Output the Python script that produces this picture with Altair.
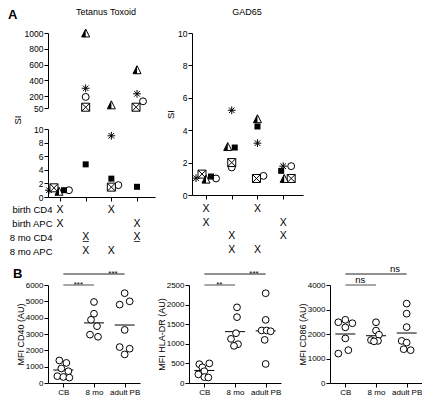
import altair as alt
import pandas as pd

FONT = "Liberation Sans"

# ---------------- data: panel A ----------------
groups = [1, 2, 3, 4]
donors = ["star", "triangle", "circle", "box", "square"]

tt_star = [1.0, 300, 9.0, 230]
tt_triangle = [0.85, 1000, 90, 535]
tt_circle = [1.0, 190, 1.75, 135]
tt_box = [1.35, 60, 1.45, 60]
tt_square = [1.0, 4.8, 2.7, 1.5]

gad_star = [1.04, 5.23, 3.2, 1.78]
gad_triangle = [0.98, 2.99, 4.71, 1.02]
gad_circle = [1.02, 1.7, 1.18, 1.78]
gad_box = [1.29, 2.0, 1.02, 1.02]
gad_square = [1.14, 2.93, 4.23, 1.49]

row_labels = ["birth CD4", "birth APC", "8 mo CD4", "8 mo APC"]
tt_table = [[1, 3], [1, 4], [2, 4], [2, 3]]
gad_table = [[1, 3], [1, 4], [2, 4], [2, 3]]

# ---------------- data: panel B ----------------
cats = ["CB", "8 mo", "adult PB"]
cd40_cb = [1380, 1230, 890, 720, 420, 370, 330]
cd40_8mo = [4960, 4240, 3870, 3480, 2960, 2830]
cd40_adult = [5500, 4800, 5000, 3250, 2200, 2100, 1750]
cd40_med = [790, 3680, 3550]

hla_cb = [480, 500, 400, 300, 220, 150, 140]
hla_8mo = [1930, 1680, 1270, 1125, 990, 947]
hla_adult = [2290, 1610, 1340, 1340, 1320, 1100, 486]
hla_med = [320, 1310, 1330]

cd86_cb = [2480, 2580, 2440, 2270, 1820, 1340, 1200]
cd86_8mo = [2480, 2140, 1970, 1750, 1720, 1700]
cd86_adult = [3240, 2830, 2280, 1720, 1650, 1380, 1340]
cd86_med = [2000, 1930, 2040]

sig_cd40 = ["***", "***"]
sig_hla = ["***", "**"]
sig_cd86 = ["ns", "ns"]

# ---------------- styles (jitter in px) ----------------
STEP = 25.7
tt_jit = {
    "star": [-11, 0, 0, 0], "box": [-6, 0, 0, -1], "triangle": [-1, 0, 0, 0],
    "square": [4, 0, 0, 0], "circle": [9, 0, 7, 6],
}
gad_jit = {
    "star": [-10, 0, 0, 0], "box": [-4, 0, -1, 8], "triangle": [0, -4, 0, 1],
    "square": [5, 3, 0, -2], "circle": [10, 0, 6, 8],
}
cd40_jit = [[-4, 3, -2, 5, -6, 0, 6], [0, 0, -3, 3, -4, 4], [0, -5, 5, 0, -5, 5, 0]]
hla_jit = [[-5, 5, -2, 0, -6, 0, 4], [2, 2, 1, -4, 3, -1], [0, 0, -4, 1, 5, -1, 0]]
cd86_jit = [[-7, 0, 7, 0, 0, 3, -7], [0, 0, 3, -5, 2, -2], [0, 0, 0, -5, 0, -3, 4]]

STAR = "M-1,0H1M0,-1V1M-0.72,-0.72L0.72,0.72M-0.72,0.72L0.72,-0.72"
BOX = "M-1,-1H1V1H-1ZM-1,-1L1,1M-1,1L1,-1"
TRI_OUT = "M0,-1L1,1L-1,1Z"
TRI_HALF = "M0,-1L-1,1L0,1Z"


def a_frame(vals, jit):
    rows = []
    for d in donors:
        for i, g in enumerate(groups):
            rows.append({"donor": d, "group": g, "value": vals[d][i],
                         "x": g + jit[d][i] / STEP})
    return pd.DataFrame(rows)


tt_df = a_frame({"star": tt_star, "triangle": tt_triangle, "circle": tt_circle,
                 "box": tt_box, "square": tt_square}, tt_jit)
gad_df = a_frame({"star": gad_star, "triangle": gad_triangle, "circle": gad_circle,
                  "box": gad_box, "square": gad_square}, gad_jit)

AX = dict(labelFont=FONT, labelFontSize=8.5, labelColor="black", domainColor="black",
          tickColor="black", tickSize=4, grid=False, titleFont=FONT, titleFontSize=9.5,
          titleFontWeight="normal", titleColor="black", labelPadding=1, format="d")


def text_chart(t, x, y, size=9.5, bold=False, angle=0, align="left", baseline="top",
               opacity=1):
    kw = dict(font=FONT, fontSize=size, fontWeight="bold" if bold else "normal",
              align=align, baseline=baseline, color="black", opacity=opacity)
    if angle:
        kw["angle"] = angle
    return alt.Chart(pd.DataFrame({"t": [t]})).mark_text(**kw).encode(
        text="t:N", x=alt.value(x), y=alt.value(y))


def symbol_layers(df, xs, ys):
    enc = dict(x=xs, y=ys)
    out = []

    def sub(d):
        return alt.Chart(df[df.donor == d])
    out.append(sub("star").mark_point(shape=STAR, size=60, stroke="black", strokeWidth=1,
                                      opacity=1).encode(**enc))
    out.append(sub("circle").mark_point(shape="circle", size=48, filled=True, fill="white",
                                        stroke="black", strokeWidth=1, opacity=1).encode(**enc))
    out.append(sub("box").mark_point(shape=BOX, size=64, filled=True, fill="white",
                                     stroke="black", strokeWidth=1, opacity=1).encode(**enc))
    out.append(sub("triangle").mark_point(shape=TRI_OUT, size=64, filled=True, fill="white",
                                          stroke="black", strokeWidth=1, opacity=1).encode(**enc))
    out.append(sub("triangle").mark_point(shape=TRI_HALF, size=64, filled=True, fill="black",
                                          strokeWidth=0, opacity=1).encode(**enc))
    out.append(sub("square").mark_point(shape="square", size=36, filled=True, fill="black",
                                        opacity=1).encode(**enc))
    return out


# ---- Tetanus (broken axis) ----
TT_DOM = [0.533, 4.70]
tt_x_none = alt.X("x:Q", scale=alt.Scale(domain=TT_DOM, nice=False, zero=False), axis=None)
tt_x_ax = alt.X("x:Q", scale=alt.Scale(domain=TT_DOM, nice=False, zero=False),
                axis=alt.Axis(values=groups, labels=False, title=None, **AX))
tt_y_up = alt.Y("value:Q", scale=alt.Scale(domain=[50, 1000], nice=False, zero=False),
                axis=alt.Axis(values=[50, 200, 400, 600, 800, 1000], title=None, **AX))
tt_y_low = alt.Y("value:Q", scale=alt.Scale(domain=[0, 10], nice=False),
                 axis=alt.Axis(values=[0, 2, 4, 6, 8, 10], title=None, **AX))

tt_up = alt.layer(
    *symbol_layers(tt_df[tt_df.value > 10], tt_x_none, tt_y_up),
    text_chart("A", -40, -24, size=13, bold=True),
    text_chart("Tetanus Toxoid", 58, -25, size=9, align="center"),
).properties(width=107, height=75)
tt_low = alt.layer(
    *symbol_layers(tt_df[tt_df.value <= 10], tt_x_ax, tt_y_low),
    text_chart("SI", -30, -9, angle=270, align="center", baseline="middle"),
).properties(width=107, height=68)

# ---- GAD65 ----
GAD_DOM = [0.455, 4.77]
gad_x = alt.X("x:Q", scale=alt.Scale(domain=GAD_DOM, nice=False, zero=False),
              axis=alt.Axis(values=groups, labels=False, title=None, **AX))
gad_y = alt.Y("value:Q", scale=alt.Scale(domain=[0, 10], nice=False),
              axis=alt.Axis(values=[0, 2, 4, 6, 8, 10], title="SI", titlePadding=2, **AX))
gad = alt.layer(
    *symbol_layers(gad_df, gad_x, gad_y),
    text_chart("GAD65", 55, -25, size=9, align="center"),
).properties(width=111, height=162)


# ---- tables ----
def table_frame(tab, underline_row=None):
    rows = []
    for r, gs in zip(row_labels, tab):
        for g in gs:
            txt = "X\u0332" if r == underline_row else "X"
            rows.append({"row": r, "group": g, "txt": txt})
    return pd.DataFrame(rows)


def table_chart(df, dom, width, labels):
    yax = alt.Axis(title=None, domain=False, ticks=False, labelFont=FONT, labelFontSize=9.5,
                   labelColor="black", labelPadding=-4) if labels else None
    return alt.Chart(df).mark_text(font=FONT, fontSize=10.5, color="black").encode(
        x=alt.X("group:Q", scale=alt.Scale(domain=dom, nice=False, zero=False), axis=None),
        y=alt.Y("row:N", sort=row_labels, scale=alt.Scale(domain=row_labels), axis=yax),
        text="txt:N",
    ).properties(width=width, height=55)


tt_tab = table_chart(table_frame(tt_table, "8 mo CD4"), TT_DOM, 107, True)
gad_tab = table_chart(table_frame(gad_table), GAD_DOM, 111, False)

tt_col = alt.vconcat(tt_up, tt_low, tt_tab, spacing=1)
gad_col = alt.vconcat(gad, gad_tab, spacing=2)
top = alt.hconcat(tt_col, gad_col, spacing=10)


# ---- panel B ----
def b_panel(series, jits, meds, ymax, ystep, title, sigs, letter=False):
    rows = []
    for c, vals, js in zip(cats, series, jits):
        for v, j in zip(vals, js):
            rows.append({"cat": c, "value": v, "jit": j})
    df = pd.DataFrame(rows)
    xsc = alt.Scale(type="point", domain=cats, padding=0.5)
    xax_kw = {**AX, "labelFontSize": 8}
    xax_kw.pop("format")
    xax = alt.Axis(title=None, labelAngle=0, **xax_kw)

    def X(f):
        return alt.X(f, type="nominal", scale=xsc, axis=xax)

    ysc = alt.Scale(domain=[0, ymax], nice=False)
    yax_kw = {**AX, "labelFontSize": 8, "titleFontSize": 9}
    yax = alt.Axis(values=list(range(0, ymax + 1, ystep)), title=title, titlePadding=0,
                   **yax_kw)
    pts = alt.Chart(df).mark_point(shape="circle", size=46, filled=True, fill="white",
                                   stroke="black", strokeWidth=1, opacity=1).encode(
        x=X("cat"),
        xOffset=alt.XOffset("jit:Q", scale=alt.Scale(domain=[-10, 10], range=[-10, 10])),
        y=alt.Y("value:Q", scale=ysc, axis=yax))
    med = alt.Chart(pd.DataFrame({"cat": cats, "m": meds})).mark_tick(
        color="black", thickness=1, size=20, opacity=1).encode(
        x=X("cat"), y=alt.Y("m:Q", scale=ysc, axis=yax))
    sig_long = alt.Chart(pd.DataFrame({"a": ["CB"], "b": ["adult PB"]})).mark_rule(
        color="#222", strokeWidth=1).encode(x=X("a"), x2="b:N", y=alt.value(-11))
    sig_short = alt.Chart(pd.DataFrame({"a": ["CB"], "b": ["8 mo"]})).mark_rule(
        color="#8a8a8a", strokeWidth=1.5).encode(x=X("a"), x2="b:N", y=alt.value(0))
    fs = 9.5 if sigs[0] == "ns" else 8
    t_long = alt.Chart(pd.DataFrame({"a": ["8 mo"], "t": [sigs[0]]})).mark_text(
        font=FONT, fontSize=fs, color="black", dx=19, baseline="alphabetic").encode(
        x=X("a"), y=alt.value(-13 if sigs[0] == "ns" else -9), text="t:N")
    t_short = alt.Chart(pd.DataFrame({"a": ["CB"], "t": [sigs[1]]})).mark_text(
        font=FONT, fontSize=fs, color="black", dx=15, baseline="alphabetic").encode(
        x=X("a"), y=alt.value(-2 if sigs[1] == "ns" else 2), text="t:N")
    layers = [sig_long, sig_short, t_long, t_short, med, pts,
              text_chart("B", 40, -24, size=13, bold=True, opacity=0)]
    if letter:
        layers.append(text_chart("B", -35, -17, size=13, bold=True))
    return alt.layer(*layers).properties(width=92, height=98)


p1 = b_panel([cd40_cb, cd40_8mo, cd40_adult], cd40_jit, cd40_med, 6000, 1000,
             "MFI CD40 (AU)", sig_cd40, letter=True)
p2 = b_panel([hla_cb, hla_8mo, hla_adult], hla_jit, hla_med, 2500, 500,
             "MFI HLA-DR (AU)", sig_hla)
p3 = b_panel([cd86_cb, cd86_8mo, cd86_adult], cd86_jit, cd86_med, 4000, 1000,
             "MFI CD86 (AU)", sig_cd86)

bottom = alt.hconcat(p1, p2, p3, spacing=17)

chart = alt.vconcat(top, bottom, spacing=3).properties(
    padding=0, background="white"
).configure(font=FONT).configure_view(strokeWidth=0, stroke="transparent")

chart.save("out.html", embed_options={"renderer": "svg", "actions": False})
